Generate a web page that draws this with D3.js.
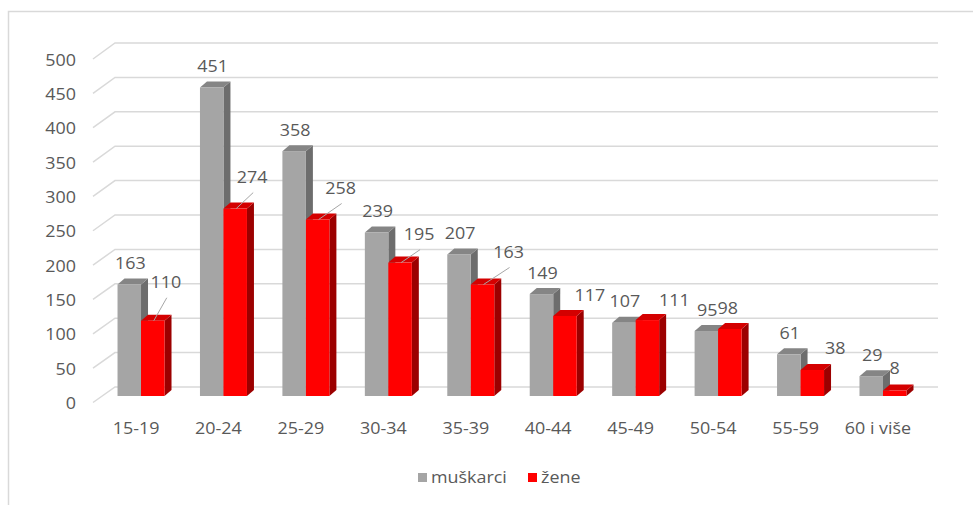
<!DOCTYPE html>
<html>
<head>
<meta charset="utf-8">
<script src="https://cdn.jsdelivr.net/npm/d3@7"></script>
<style>
  body { margin: 0; background: #fff; }
  text { font-family: "Open Sans", sans-serif; fill: #595959; }
</style>
</head>
<body>
<div id="chart"></div>
<script>
// data
let categories = ["15-19", "20-24", "25-29", "30-34", "35-39", "40-44", "45-49", "50-54", "55-59", "60 i više"];
let seriesNames = ["muškarci", "žene"];
let muskarci = [163, 451, 358, 239, 207, 149, 107, 95, 61, 29];
let zene = [110, 274, 258, 195, 163, 117, 111, 98, 38, 8];
let yTicks = [0, 50, 100, 150, 200, 250, 300, 350, 400, 450, 500];

// red labels were dragged around by hand in the original, so nudge them
let zeneLabelNudge = [[13, -38], [17, -31], [23, -31], [19, -28], [26, -32], [25, -21], [27, -20], [-2, -21], [23, -22], [0, -22]];
let zeneLeader = [true, true, true, true, true, false, false, false, false, false];

let width = 973, height = 505;
let colors = {
  front: ["#a5a5a5", "#ff0000"],
  top: ["#858585", "#d40000"],
  side: ["#6d6d6d", "#9c0000"]
};
let depth = { dx: 7, dy: -6 };

let svg = d3.select("#chart").append("svg")
  .attr("width", width)
  .attr("height", height);

// frame
svg.append("path")
  .attr("d", `M8.5,${height} V11.5 H${width}`)
  .attr("fill", "none")
  .attr("stroke", "#d9d9d9")
  .attr("stroke-width", 1.5);

// stretched text, looks closer to the original font
let addText = (g, x, y, str, anchor) => {
  return g.append("text")
    .attr("transform", `translate(${x},${y}) scale(1.12,1)`)
    .attr("text-anchor", anchor || "middle")
    .attr("dy", "0.35em")
    .style("font-size", "16px")
    .text(str);
};

let yBack = d3.scaleLinear().domain([0, 500]).range([387, 43]);
let yFront = d3.scaleLinear().domain([0, 500]).range([402.5, 59]);
let yBar = d3.scaleLinear().domain([0, 500]).range([396, 54]);

// walls / gridlines
let grid = svg.append("g");
yTicks.forEach(v => {
  grid.append("path")
    .attr("d", `M93,${yFront(v)} L115,${yBack(v)} H938`)
    .attr("fill", "none")
    .attr("stroke", "#d9d9d9")
    .attr("stroke-width", 1.5);
  addText(grid, 76, yFront(v) + 1, v, "end");
});

let x = d3.scaleBand()
  .domain(categories)
  .range([99.8, 924.2])
  .paddingInner(0.43)
  .paddingOuter(0.215);

let xs = d3.scaleBand()
  .domain(seriesNames)
  .range([0, x.bandwidth()]);

let series = [muskarci, zene];
let bars = svg.append("g");

categories.forEach((c, i) => {
  series.forEach((vals, s) => {
    let v = vals[i];
    let x0 = x(c) + xs(seriesNames[s]);
    let w = xs.bandwidth();
    let y0 = yBar(v), yb = yBar(0);
    let dx = depth.dx, dy = depth.dy;
    bars.append("path")
      .attr("d", `M${x0 + w},${y0} L${x0 + w + dx},${y0 + dy} L${x0 + w + dx},${yb + dy} L${x0 + w},${yb} Z`)
      .attr("fill", colors.side[s]);
    bars.append("path")
      .attr("d", `M${x0},${y0} L${x0 + dx},${y0 + dy} L${x0 + w + dx},${y0 + dy} L${x0 + w},${y0} Z`)
      .attr("fill", colors.top[s]);
    bars.append("rect")
      .attr("x", x0)
      .attr("y", y0)
      .attr("width", w)
      .attr("height", yb - y0)
      .attr("fill", colors.front[s]);
  });
});

// data labels
let labels = svg.append("g");
categories.forEach((c, i) => {
  let w = xs.bandwidth();
  let gx = x(c) + xs(seriesNames[0]) + w / 2;
  addText(labels, gx + 1, yBar(muskarci[i]) - 21, muskarci[i]);

  let rx = x(c) + xs(seriesNames[1]) + w / 2;
  let ry = yBar(zene[i]);
  let lx = rx + zeneLabelNudge[i][0], ly = ry + zeneLabelNudge[i][1];
  if (zeneLeader[i]) {
    labels.append("line")
      .attr("x1", lx + 1).attr("y1", ly + 15)
      .attr("x2", rx + 1).attr("y2", ry)
      .attr("stroke", "#a6a6a6")
      .attr("stroke-width", 1);
  }
  addText(labels, lx, ly, zene[i]);
});

// category axis
let xAxis = svg.append("g");
categories.forEach(c => {
  addText(xAxis, x(c) + x.bandwidth() / 2 - 5, 428, c);
});

// legend
let legend = svg.append("g");
let legendX = [418, 528];
seriesNames.forEach((n, s) => {
  legend.append("rect")
    .attr("x", legendX[s]).attr("y", 473)
    .attr("width", 9).attr("height", 9)
    .attr("fill", colors.front[s]);
  addText(legend, legendX[s] + 13, 477.5, n, "start");
});
</script>
</body>
</html>
